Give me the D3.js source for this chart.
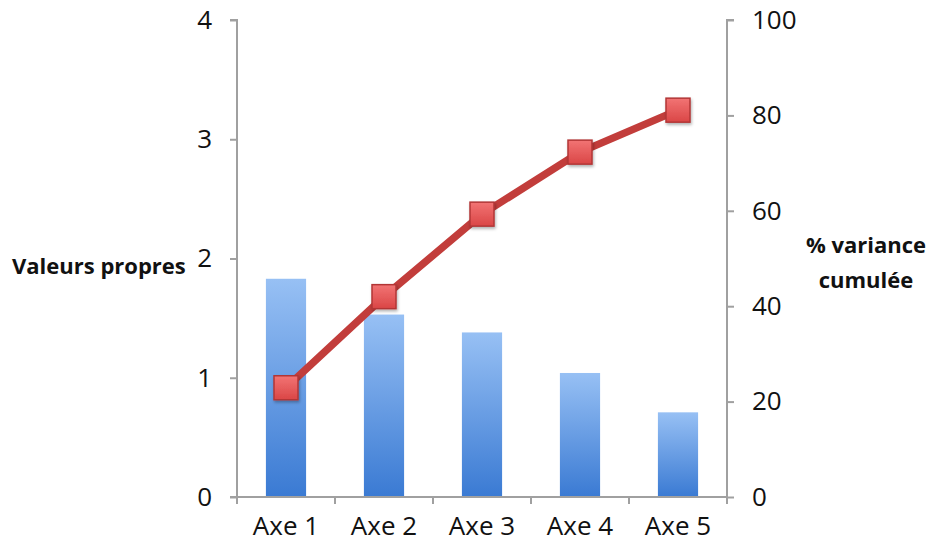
<!DOCTYPE html>
<html><head><meta charset="utf-8">
<script src="https://cdn.jsdelivr.net/npm/d3@7"></script>
<style>body{margin:0;background:#fff}svg{display:block}text{font-family:"Open Sans","Liberation Sans",sans-serif}</style>
</head><body><svg id="c" width="928" height="549"></svg>
<script>
const categories = ["Axe 1","Axe 2","Axe 3","Axe 4","Axe 5"];
const eigenvalues = [1.83, 1.53, 1.38, 1.04, 0.71];
const cumulVariance = [22.9, 42.0, 59.3, 72.3, 81.1];
const leftTicks = [0,1,2,3,4];
const rightTicks = [0,20,40,60,80,100];

const svg = d3.select("#c");
const L = 237, R = 727, T = 20, B = 497;
const x = d3.scaleBand().domain(categories).range([L, R]).paddingInner(0.59).paddingOuter(0.295);
const xb = d3.scaleBand().domain(categories).range([L, R]);
const yL = d3.scaleLinear().domain([0,4]).range([B, T]);
const yR = d3.scaleLinear().domain([0,100]).range([B, T]);

const defs = svg.append("defs");
const bg = defs.append("linearGradient").attr("id","barG").attr("x1",0).attr("y1",0).attr("x2",0).attr("y2",1);
bg.append("stop").attr("offset","0%").attr("stop-color","#97c0f4");
bg.append("stop").attr("offset","100%").attr("stop-color","#3a7ad3");
const mg = defs.append("linearGradient").attr("id","mkG").attr("x1",0).attr("y1",0).attr("x2",0).attr("y2",1);
mg.append("stop").attr("offset","0%").attr("stop-color","#f27474");
mg.append("stop").attr("offset","100%").attr("stop-color","#da4646");
const sh = defs.append("filter").attr("id","sh").attr("x","-50%").attr("y","-50%").attr("width","200%").attr("height","200%");
sh.append("feDropShadow").attr("dx",1).attr("dy",2).attr("stdDeviation",1.5).attr("flood-color","#000").attr("flood-opacity",0.3);

svg.append("g").selectAll("rect").data(categories).join("rect")
  .attr("x", d => x(d)).attr("width", x.bandwidth())
  .attr("y", (d,i) => yL(eigenvalues[i])).attr("height", (d,i) => B - yL(eigenvalues[i]))
  .attr("fill","url(#barG)");

const axisCol = "#a0a0a0";
const gl = svg.append("g").attr("transform",`translate(${L},0)`)
  .call(d3.axisLeft(yL).tickValues(leftTicks).tickFormat(d3.format("d")).tickSize(7).tickPadding(18));
const gr = svg.append("g").attr("transform",`translate(${R},0)`)
  .call(d3.axisRight(yR).tickValues(rightTicks).tickFormat(d3.format("d")).tickSize(7).tickPadding(18));
const gb = svg.append("g").attr("transform",`translate(0,${B})`)
  .call(d3.axisBottom(xb).tickSize(0).tickPadding(20));
const bnd = categories.map(c => xb(c)).concat([R]);
gb.append("g").selectAll("line").data(bnd).join("line")
  .attr("x1", d=>d).attr("x2", d=>d).attr("y1",0).attr("y2",7).attr("stroke",axisCol).attr("stroke-width",2);

[gl,gr,gb].forEach(g => {
  g.attr("font-size", null).attr("font-family", null);
  g.select(".domain").attr("stroke",axisCol).attr("stroke-width",2);
  g.selectAll(".tick line").attr("stroke",axisCol).attr("stroke-width",2);
  g.selectAll(".tick text").attr("fill","#111").style("font-size","26px");
});
gl.select(".domain").attr("d",`M-7,${T}H0V${B}`);
gr.select(".domain").attr("d",`M7,${T}H0V${B}`);
gb.select(".domain").attr("d",`M${L-7},0H${R}`);

const line = d3.line().x((d,i) => xb(categories[i]) + xb.bandwidth()/2).y(d => yR(d));
svg.append("path").datum(cumulVariance).attr("d", line)
  .attr("fill","none").attr("stroke","#c23d3b").attr("stroke-width",7.5).attr("stroke-linejoin","round");
const s = 24;
svg.append("g").selectAll("rect").data(cumulVariance).join("rect")
  .attr("x",(d,i) => xb(categories[i]) + xb.bandwidth()/2 - s/2)
  .attr("y", d => yR(d) - s/2).attr("width",s).attr("height",s)
  .attr("fill","url(#mkG)").attr("stroke","#b23636").attr("stroke-width",1.5).attr("filter","url(#sh)");

svg.append("text").attr("x",12).attr("y",274).text("Valeurs propres")
  .style("font-size","22px").style("font-weight","bold").attr("fill","#111");
const t2 = svg.append("text").attr("text-anchor","middle").style("font-size","22px").style("font-weight","bold").attr("fill","#111");
t2.append("tspan").attr("x",866).attr("y",253).text("% variance");
t2.append("tspan").attr("x",866).attr("y",288).text("cumulée");
</script></body></html>
